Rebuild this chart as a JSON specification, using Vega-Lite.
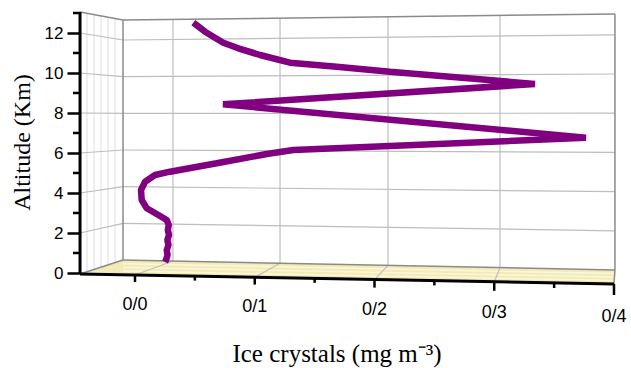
{
  "$schema": "https://vega.github.io/schema/vega-lite/v6.json",
  "width": 551,
  "height": 368,
  "autosize": {"type": "none"},
  "padding": {"left": 80, "top": 0, "right": 0, "bottom": 0},
  "background": "white",
  "config": {"view": {"stroke": null}},
  "datasets": {
    "floor": [
      {"x": -0.0459, "y": -0.05, "y2": -0.05},
      {"x": -0.0100, "y": 0.65, "y2": -0.09},
      {"x": 0.4, "y": 0.15, "y2": -0.55}
    ],
    "frame": [
      {"kind": "stripe", "x": -0.0100, "y": 0.465, "x2": 0.4, "y2": -0.025},
      {"kind": "stripe", "x": -0.0100, "y": 0.28, "x2": 0.4, "y2": -0.2},
      {"kind": "stripe", "x": -0.0100, "y": 0.095, "x2": 0.4, "y2": -0.375},

      {"kind": "faint", "x": -0.0401, "y": 0.065, "x2": -0.0401, "y2": 12.985},
      {"kind": "faint", "x": -0.0342, "y": 0.18, "x2": -0.0342, "y2": 12.92},
      {"kind": "faint", "x": -0.0284, "y": 0.29, "x2": -0.0284, "y2": 12.855},
      {"kind": "faint", "x": -0.0225, "y": 0.405, "x2": -0.0225, "y2": 12.79},
      {"kind": "faint", "x": -0.0167, "y": 0.52, "x2": -0.0167, "y2": 12.725},

      {"kind": "grid", "x": -0.0459, "y": 2, "x2": -0.0100, "y2": 2.483},
      {"kind": "grid", "x": -0.0459, "y": 4, "x2": -0.0100, "y2": 4.317},
      {"kind": "grid", "x": -0.0459, "y": 6, "x2": -0.0100, "y2": 6.15},
      {"kind": "grid", "x": -0.0459, "y": 8, "x2": -0.0100, "y2": 7.983},
      {"kind": "grid", "x": -0.0459, "y": 10, "x2": -0.0100, "y2": 9.817},
      {"kind": "grid", "x": -0.0459, "y": 12, "x2": -0.0100, "y2": 11.65},
      {"kind": "grid", "x": -0.0100, "y": 2.483, "x2": 0.4008, "y2": 2.11},
      {"kind": "grid", "x": -0.0100, "y": 4.317, "x2": 0.4008, "y2": 4.07},
      {"kind": "grid", "x": -0.0100, "y": 6.15, "x2": 0.4008, "y2": 6.03},
      {"kind": "grid", "x": -0.0100, "y": 7.983, "x2": 0.4008, "y2": 7.99},
      {"kind": "grid", "x": -0.0100, "y": 9.817, "x2": 0.4008, "y2": 9.95},
      {"kind": "grid", "x": -0.0100, "y": 11.65, "x2": 0.4008, "y2": 11.91},
      {"kind": "grid", "x": 0.0317, "y": 0.6, "x2": 0.0317, "y2": 12.68},
      {"kind": "grid", "x": 0.1211, "y": 0.49, "x2": 0.1211, "y2": 12.745},
      {"kind": "grid", "x": 0.2113, "y": 0.38, "x2": 0.2113, "y2": 12.81},
      {"kind": "grid", "x": 0.3048, "y": 0.265, "x2": 0.3048, "y2": 12.88},
      {"kind": "grid", "x": 0.0, "y": -0.10, "x2": 0.0317, "y2": 0.6},
      {"kind": "grid", "x": 0.1, "y": -0.21, "x2": 0.1211, "y2": 0.49},
      {"kind": "grid", "x": 0.2, "y": -0.33, "x2": 0.2113, "y2": 0.38},
      {"kind": "grid", "x": 0.3, "y": -0.44, "x2": 0.3048, "y2": 0.265},

      {"kind": "edge", "x": -0.0459, "y": 13.05, "x2": -0.0100, "y2": 12.65},
      {"kind": "edge", "x": -0.0100, "y": 12.65, "x2": 0.4008, "y2": 12.95},
      {"kind": "edge", "x": -0.0100, "y": 0.65, "x2": -0.0100, "y2": 12.65},
      {"kind": "edge", "x": 0.4008, "y": 0.15, "x2": 0.4008, "y2": 12.95},
      {"kind": "edge", "x": -0.0100, "y": 0.65, "x2": 0.4008, "y2": 0.15},
      {"kind": "edge", "x": -0.0459, "y": -0.05, "x2": -0.0100, "y2": 0.65},
      {"kind": "edge", "x": 0.4, "y": -0.55, "x2": 0.4008, "y2": 0.15},

      {"kind": "axis", "x": -0.0459, "y": -0.05, "x2": -0.0459, "y2": 13.05},
      {"kind": "axis", "x": -0.0459, "y": -0.05, "x2": 0.4, "y2": -0.55},

      {"kind": "tick", "x": 0.0, "y": -0.10, "x2": 0.0, "y2": -0.45},
      {"kind": "tick", "x": 0.1, "y": -0.21, "x2": 0.1, "y2": -0.58},
      {"kind": "tick", "x": 0.2, "y": -0.33, "x2": 0.2, "y2": -0.73},
      {"kind": "tick", "x": 0.3, "y": -0.44, "x2": 0.3, "y2": -0.89},
      {"kind": "tick", "x": 0.4, "y": -0.55, "x2": 0.4, "y2": -1.1},
      {"kind": "tick", "x": 0.05, "y": -0.16, "x2": 0.05, "y2": -0.38},
      {"kind": "tick", "x": 0.15, "y": -0.27, "x2": 0.15, "y2": -0.49},
      {"kind": "tick", "x": 0.25, "y": -0.38, "x2": 0.25, "y2": -0.62},
      {"kind": "tick", "x": 0.35, "y": -0.49, "x2": 0.35, "y2": -0.75},
      {"kind": "tick", "x": -0.0518, "y": 1, "x2": -0.0459, "y2": 1},
      {"kind": "tick", "x": -0.0518, "y": 3, "x2": -0.0459, "y2": 3},
      {"kind": "tick", "x": -0.0518, "y": 5, "x2": -0.0459, "y2": 5},
      {"kind": "tick", "x": -0.0518, "y": 7, "x2": -0.0459, "y2": 7},
      {"kind": "tick", "x": -0.0518, "y": 9, "x2": -0.0459, "y2": 9},
      {"kind": "tick", "x": -0.0518, "y": 11, "x2": -0.0459, "y2": 11},
      {"kind": "tick", "x": -0.0518, "y": 13, "x2": -0.0459, "y2": 13}
    ],
    "profile": [
      {"i": 1, "x": 0.0487, "y": 12.515},
      {"i": 2, "x": 0.0585, "y": 12.065},
      {"i": 3, "x": 0.0737, "y": 11.515},
      {"i": 4, "x": 0.0863, "y": 11.235},
      {"i": 5, "x": 0.1044, "y": 10.9},
      {"i": 6, "x": 0.1294, "y": 10.515},
      {"i": 7, "x": 0.1684, "y": 10.315},
      {"i": 8, "x": 0.2129, "y": 10.065},
      {"i": 9, "x": 0.2630, "y": 9.815},
      {"i": 10, "x": 0.3340, "y": 9.45},
      {"i": 11, "x": 0.0735, "y": 8.435},
      {"i": 12, "x": 0.3766, "y": 6.765},
      {"i": 13, "x": 0.1322, "y": 6.15},
      {"i": 14, "x": 0.1100, "y": 5.95},
      {"i": 15, "x": 0.0682, "y": 5.485},
      {"i": 16, "x": 0.0292, "y": 5.065},
      {"i": 17, "x": 0.0167, "y": 4.9},
      {"i": 18, "x": 0.0084, "y": 4.565},
      {"i": 19, "x": 0.0050, "y": 4.15},
      {"i": 20, "x": 0.0056, "y": 3.65},
      {"i": 21, "x": 0.0098, "y": 3.235},
      {"i": 22, "x": 0.0195, "y": 2.9},
      {"i": 23, "x": 0.0265, "y": 2.65},
      {"i": 24, "x": 0.0282, "y": 2.4},
      {"i": 25, "x": 0.0274, "y": 2.15},
      {"i": 26, "x": 0.0284, "y": 1.9},
      {"i": 27, "x": 0.0270, "y": 1.65},
      {"i": 28, "x": 0.0280, "y": 1.4},
      {"i": 29, "x": 0.0265, "y": 1.15},
      {"i": 30, "x": 0.0272, "y": 0.9},
      {"i": 31, "x": 0.0259, "y": 0.65},
      {"i": 32, "x": 0.0251, "y": 0.55}
    ],
    "ticklabels": [
      {"t": "0/0", "x": 0.0, "y": -1.6},
      {"t": "0/1", "x": 0.1, "y": -1.7},
      {"t": "0/2", "x": 0.2, "y": -1.85},
      {"t": "0/3", "x": 0.3, "y": -2.0},
      {"t": "0/4", "x": 0.4, "y": -2.2}
    ]
  },
  "layer": [
    {
      "data": {"name": "floor"},
      "mark": {"type": "area", "color": "#f2ebb6"},
      "encoding": {
        "x": {"field": "x", "type": "quantitative", "scale": {"domain": [-0.04593, 0.4142], "nice": false, "zero": false}, "axis": null},
        "y": {
          "field": "y", "type": "quantitative",
          "scale": {"domain": [-4.75, 13.65], "nice": false, "zero": false},
          "axis": {
            "values": [0, 2, 4, 6, 8, 10, 12], "format": "d",
            "domain": false, "grid": false,
            "tickSize": 13, "tickWidth": 2.5, "tickColor": "black",
            "labelFont": "Liberation Sans", "labelFontSize": 17, "labelColor": "black", "labelPadding": 4,
            "title": "Altitude (Km)", "titleFont": "Liberation Serif", "titleFontSize": 24,
            "titleFontWeight": "normal", "titleColor": "black",
            "titleX": -58, "titleY": 142, "titleAngle": -90, "titleAlign": "center", "titleBaseline": "middle"
          }
        },
        "y2": {"field": "y2"}
      }
    },
    {
      "data": {"name": "frame"},
      "transform": [{"filter": "datum.kind === 'stripe'"}],
      "mark": {"type": "rule", "color": "#fbf7dc", "strokeWidth": 1.5},
      "encoding": {
        "x": {"field": "x", "type": "quantitative"},
        "y": {"field": "y", "type": "quantitative"},
        "x2": {"field": "x2"}, "y2": {"field": "y2"}
      }
    },
    {
      "data": {"name": "frame"},
      "transform": [{"filter": "datum.kind === 'faint'"}],
      "mark": {"type": "rule", "color": "#dedede", "strokeWidth": 1},
      "encoding": {
        "x": {"field": "x", "type": "quantitative"},
        "y": {"field": "y", "type": "quantitative"},
        "x2": {"field": "x2"}, "y2": {"field": "y2"}
      }
    },
    {
      "data": {"name": "frame"},
      "transform": [{"filter": "datum.kind === 'grid'"}],
      "mark": {"type": "rule", "color": "#bdbdbd", "strokeWidth": 1.2},
      "encoding": {
        "x": {"field": "x", "type": "quantitative"},
        "y": {"field": "y", "type": "quantitative"},
        "x2": {"field": "x2"}, "y2": {"field": "y2"}
      }
    },
    {
      "data": {"name": "frame"},
      "transform": [{"filter": "datum.kind === 'edge'"}],
      "mark": {"type": "rule", "color": "#8a8a8a", "strokeWidth": 1.5},
      "encoding": {
        "x": {"field": "x", "type": "quantitative"},
        "y": {"field": "y", "type": "quantitative"},
        "x2": {"field": "x2"}, "y2": {"field": "y2"}
      }
    },
    {
      "data": {"name": "profile"},
      "mark": {"type": "line", "color": "#800080", "strokeWidth": 6.5, "strokeJoin": "bevel"},
      "encoding": {
        "x": {"field": "x", "type": "quantitative"},
        "y": {"field": "y", "type": "quantitative"},
        "order": {"field": "i", "type": "quantitative"}
      }
    },
    {
      "data": {"name": "frame"},
      "transform": [{"filter": "datum.kind === 'axis'"}],
      "mark": {"type": "rule", "color": "black", "strokeWidth": 3},
      "encoding": {
        "x": {"field": "x", "type": "quantitative"},
        "y": {"field": "y", "type": "quantitative"},
        "x2": {"field": "x2"}, "y2": {"field": "y2"}
      }
    },
    {
      "data": {"name": "frame"},
      "transform": [{"filter": "datum.kind === 'tick'"}],
      "mark": {"type": "rule", "color": "black", "strokeWidth": 2.5},
      "encoding": {
        "x": {"field": "x", "type": "quantitative"},
        "y": {"field": "y", "type": "quantitative"},
        "x2": {"field": "x2"}, "y2": {"field": "y2"}
      }
    },
    {
      "data": {"name": "ticklabels"},
      "mark": {"type": "text", "font": "Liberation Sans", "fontSize": 18, "color": "black", "align": "center", "baseline": "middle"},
      "encoding": {
        "x": {"field": "x", "type": "quantitative"},
        "y": {"field": "y", "type": "quantitative"},
        "text": {"field": "t"}
      }
    },
    {
      "data": {"values": [{"t": "Ice crystals (mg m⁻³)", "x": 0.1687, "y": -4.45}]},
      "mark": {"type": "text", "font": "Liberation Serif", "fontSize": 25, "color": "black", "align": "center", "baseline": "alphabetic"},
      "encoding": {
        "x": {"field": "x", "type": "quantitative"},
        "y": {"field": "y", "type": "quantitative"},
        "text": {"field": "t"}
      }
    }
  ]
}
